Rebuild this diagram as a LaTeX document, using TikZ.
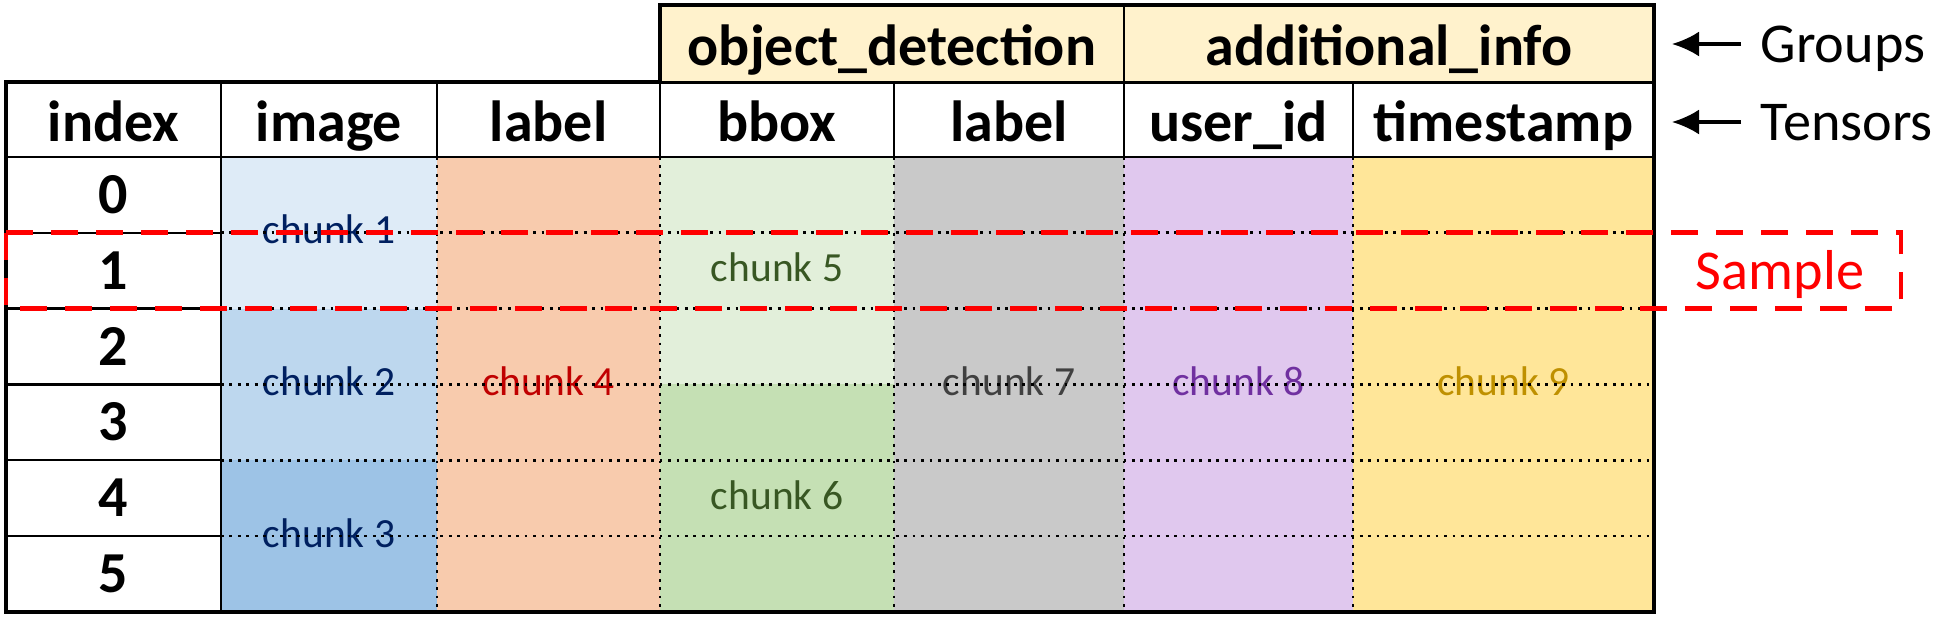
\documentclass[tikz,border=0pt]{standalone}
\usepackage{fontspec}
\setmainfont{Carlito}
\usetikzlibrary{positioning, arrows.meta}
\definecolor{grpFill}{HTML}{FFF2CC}
\definecolor{imgA}{HTML}{DEEBF7}
\definecolor{imgB}{HTML}{BDD7EE}
\definecolor{imgC}{HTML}{9DC3E6}
\definecolor{lblFill}{HTML}{F8CBAD}
\definecolor{bbA}{HTML}{E2EFDA}
\definecolor{bbB}{HTML}{C5E0B4}
\definecolor{odlFill}{HTML}{C9C9C9}
\definecolor{uidFill}{HTML}{E0C8EE}
\definecolor{tsFill}{HTML}{FFE699}
\definecolor{navyTxt}{HTML}{002060}
\definecolor{redTxt}{HTML}{C00000}
\definecolor{greenTxt}{HTML}{385723}
\definecolor{grayTxt}{HTML}{404040}
\definecolor{purpleTxt}{HTML}{7030A0}
\definecolor{goldTxt}{HTML}{BF9000}
\tikzstyle{hdrBox} = [rectangle, draw, line width=0.7pt, text centered, inner sep=0pt, outer sep=0pt, minimum height=0.75cm, text height=0.44cm, text depth=0cm, font=\fontsize{16.5}{19.8}\selectfont\bfseries]
\tikzstyle{idxBox} = [hdrBox, minimum width=2.15cm, minimum height=0.758cm, text height=0.37cm]
\tikzstyle{grpBox} = [hdrBox, fill=grpFill, minimum height=0.77cm]
\tikzstyle{chunkBox} = [rectangle, text centered, inner sep=0pt, outer sep=0pt, text height=0.22cm, text depth=0cm, font=\fontsize{11.8}{14}\selectfont]
\tikzstyle{sideLbl} = [inner xsep=0.19cm, inner ysep=0pt, text height=0.42cm, text depth=0.05cm, font=\fontsize{16}{19.2}\selectfont]
\tikzstyle{gridDot} = [line width=0.8pt, dash pattern=on 0.8pt off 1.6pt]
\tikzstyle{sampleLine} = [red, line width=1.35pt, dash pattern=on 0.27cm off 0.18cm]

\begin{document}
\begin{tikzpicture}
		\useasboundingbox (0,0) rectangle (19.41,-6.17);
		% tensor headers
		\node [hdrBox, minimum width=2.15cm, anchor=north west](hIdx) at (0.06,-0.82){index};
		\node [hdrBox, minimum width=2.16cm, right=0cm of hIdx](hImg){image};
		\node [hdrBox, minimum width=2.23cm, right=0cm of hImg](hLbl){label};
		\node [hdrBox, minimum width=2.34cm, right=0cm of hLbl](hBox){bbox};
		\node [hdrBox, minimum width=2.30cm, right=0cm of hBox](hOdl){label};
		\node [hdrBox, minimum width=2.29cm, right=0cm of hOdl](hUid){user\_id};
		\node [hdrBox, minimum width=3.01cm, right=0cm of hUid](hTs){timestamp};
		
		% chunks
		\node [chunkBox, fill=imgA, text=navyTxt, minimum width=2.16cm, minimum height=1.516cm, below=0cm of hImg](c1){chunk 1};
		\node [chunkBox, fill=imgB, text=navyTxt, minimum width=2.16cm, minimum height=1.516cm, below=0cm of c1](c2){chunk 2};
		\node [chunkBox, fill=imgC, text=navyTxt, minimum width=2.16cm, minimum height=1.516cm, below=0cm of c2](c3){chunk 3};
		\node [chunkBox, fill=lblFill, text=redTxt, minimum width=2.23cm, minimum height=4.548cm, below=0cm of hLbl](c4){chunk 4};
		\node [chunkBox, fill=bbA, text=greenTxt, minimum width=2.34cm, minimum height=2.274cm, below=0cm of hBox](c5){chunk 5};
		\node [chunkBox, fill=bbB, text=greenTxt, minimum width=2.34cm, minimum height=2.274cm, below=0cm of c5](c6){chunk 6};
		\node [chunkBox, fill=odlFill, text=grayTxt, minimum width=2.30cm, minimum height=4.548cm, below=0cm of hOdl](c7){chunk 7};
		\node [chunkBox, fill=uidFill, text=purpleTxt, minimum width=2.29cm, minimum height=4.548cm, below=0cm of hUid](c8){chunk 8};
		\node [chunkBox, fill=tsFill, text=goldTxt, minimum width=3.01cm, minimum height=4.548cm, below=0cm of hTs](c9){chunk 9};
		
		% index column
		\node [idxBox, below=0cm of hIdx](i0){0};
		\node [idxBox, below=0cm of i0](i1){1};
		\node [idxBox, below=0cm of i1](i2){2};
		\node [idxBox, below=0cm of i2](i3){3};
		\node [idxBox, below=0cm of i3](i4){4};
		\node [idxBox, below=0cm of i4](i5){5};
		
		% dotted grid
		\draw [gridDot] (i0.south east) -- (i0.south east -| hTs.east);
		\draw [gridDot] (i1.south east) -- (i1.south east -| hTs.east);
		\draw [gridDot] (i2.south east) -- (i2.south east -| hTs.east);
		\draw [gridDot] (i3.south east) -- (i3.south east -| hTs.east);
		\draw [gridDot] (i4.south east) -- (i4.south east -| hTs.east);
		\draw [gridDot] (hLbl.south west) -- (hLbl.south west |- i5.south);
		\draw [gridDot] (hBox.south west) -- (hBox.south west |- i5.south);
		\draw [gridDot] (hOdl.south west) -- (hOdl.south west |- i5.south);
		\draw [gridDot] (hUid.south west) -- (hUid.south west |- i5.south);
		\draw [gridDot] (hTs.south west) -- (hTs.south west |- i5.south);
		\draw [line width=0.7pt] (hIdx.south west) -- (hTs.south east);
		\draw [line width=1.1pt] (hIdx.north west) rectangle (i5.south -| hTs.east);
		
		% groups
		\node [grpBox, minimum width=4.64cm, anchor=south west](gObj) at (hBox.north west){object\_detection};
		\node [grpBox, minimum width=5.30cm, anchor=south west](gAdd) at (hUid.north west){additional\_info};
		\draw [line width=1.1pt] (gObj.south west) -- (gObj.north west) -- (gAdd.north east) -- (gAdd.south east);
		
		% sample
		\coordinate (smpEnd) at (19.01,0);
		\draw [sampleLine] (i1.north west) rectangle (i1.south -| smpEnd);
		\node [sideLbl, text=red](smp) at (17.80,-2.708){Sample};
		
		% side labels
		\node [sideLbl, anchor=west](grpLbl) at (17.41,-0.44){Groups};
		\node [sideLbl, anchor=west](tnsLbl) at (17.41,-1.22){Tensors};
		\coordinate (grpTip) at (16.72,-0.44);
		\coordinate (tnsTip) at (16.72,-1.22);
		\draw [-{Latex[length=0.27cm,width=0.25cm]}, line width=0.9pt] (grpLbl.west) -- (grpTip);
		\draw [-{Latex[length=0.27cm,width=0.25cm]}, line width=0.9pt] (tnsLbl.west) -- (tnsTip);
		
		\end{tikzpicture}
\end{document}
